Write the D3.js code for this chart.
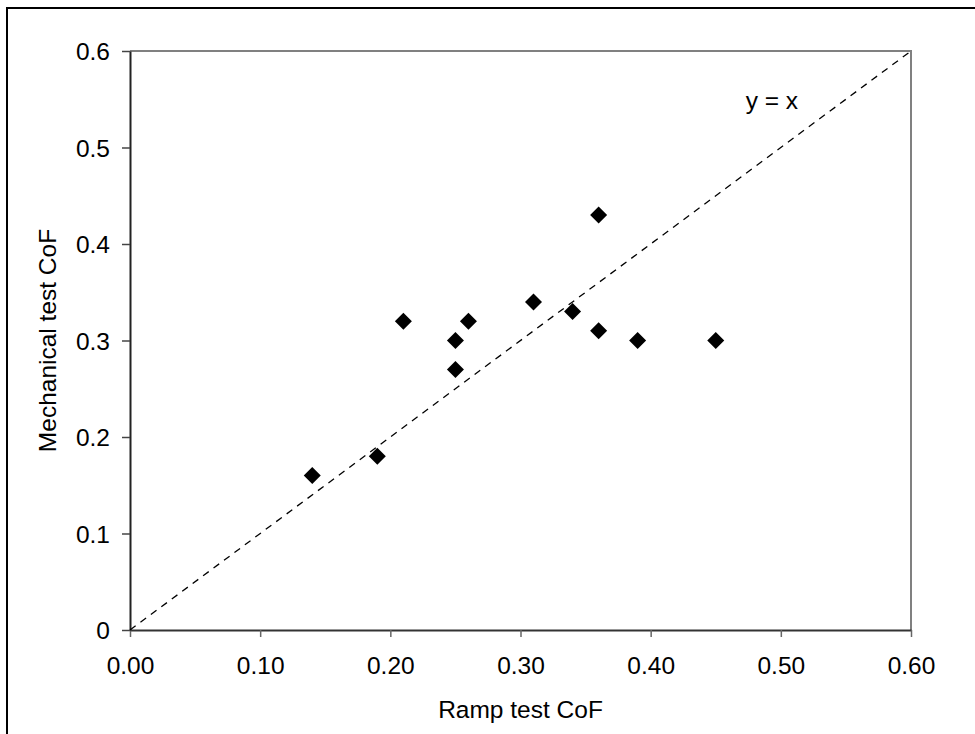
<!DOCTYPE html>
<html>
<head>
<meta charset="utf-8">
<script src="https://cdn.jsdelivr.net/npm/d3@7"></script>
<style>
  html, body { margin: 0; padding: 0; background: #fff; }
  svg { display: block; font-family: "Liberation Sans", Arial, sans-serif; }
</style>
</head>
<body>
<svg id="chart" width="975" height="734"></svg>
<script>
const rampCoF = [0.14, 0.19, 0.21, 0.25, 0.25, 0.26, 0.31, 0.34, 0.36, 0.36, 0.39, 0.45];
const mechCoF = [0.16, 0.18, 0.32, 0.30, 0.27, 0.32, 0.34, 0.33, 0.43, 0.31, 0.30, 0.30];
const xTicks = [0, 0.1, 0.2, 0.3, 0.4, 0.5, 0.6];
const yTicks = [0, 0.1, 0.2, 0.3, 0.4, 0.5, 0.6];
const xTitle = "Ramp test CoF";
const yTitle = "Mechanical test CoF";
const lineLabel = "y = x";

(function () {
const svg = d3.select("#chart");
const W = 975, H = 734;
const pLeft = 130, pRight = 911, pTop = 51, pBottom = 630;
const fs = 24.5;

// outer frame (left and top edges visible)
svg.append("path")
  .attr("d", `M7,${H + 2}V8H${W + 2}`)
  .attr("fill", "none").attr("stroke", "#000").attr("stroke-width", 2);

const x = d3.scaleLinear().domain([0, 0.6]).range([pLeft, pRight]);
const y = d3.scaleLinear().domain([0, 0.6]).range([pBottom, pTop]);

// top and right plot border (gray)
svg.append("path")
  .attr("d", `M${pLeft},${pTop}H${pRight}V${pBottom}`)
  .attr("fill", "none").attr("stroke", "#808080").attr("stroke-width", 2);

// x axis
const xAxis = svg.append("g").attr("transform", `translate(0,${pBottom})`)
  .call(d3.axisBottom(x).tickValues(xTicks).tickSize(7).tickSizeOuter(0).tickFormat(d3.format(".2f")));
xAxis.select(".domain").attr("stroke", "#333").attr("stroke-width", 2);
xAxis.selectAll(".tick line").attr("stroke", "#666").attr("stroke-width", 1.5);
xAxis.selectAll(".tick text")
  .attr("font-size", fs).attr("fill", "#000")
  .attr("font-family", "Liberation Sans, Arial, sans-serif")
  .attr("y", 44).attr("dy", 0);

// y axis
const yAxis = svg.append("g").attr("transform", `translate(${pLeft},0)`)
  .call(d3.axisLeft(y).tickValues(yTicks).tickSize(8).tickSizeOuter(0)
    .tickFormat(d => d === 0 ? "0" : d3.format(".1f")(d)));
yAxis.select(".domain").attr("stroke", "#222").attr("stroke-width", 2);
yAxis.selectAll(".tick line").attr("stroke", "#444").attr("stroke-width", 1.5);
yAxis.selectAll(".tick text")
  .attr("font-size", fs).attr("fill", "#000")
  .attr("font-family", "Liberation Sans, Arial, sans-serif")
  .attr("x", -20).attr("dy", "0.35em");

// y = x dashed line
svg.append("line")
  .attr("x1", x(0)).attr("y1", y(0))
  .attr("x2", x(0.6)).attr("y2", y(0.6))
  .attr("stroke", "#000").attr("stroke-width", 1.3)
  .attr("stroke-dasharray", "7,6");

svg.append("text")
  .attr("x", x(0.473)).attr("y", y(0.54))
  .attr("font-size", fs).attr("fill", "#000")
  .text(lineLabel);

// diamonds
const r = 8.5;
svg.append("g").selectAll("path")
  .data(rampCoF.map((v, i) => [v, mechCoF[i]]))
  .join("path")
  .attr("d", d => `M${x(d[0])},${y(d[1]) - r}L${x(d[0]) + r},${y(d[1])}L${x(d[0])},${y(d[1]) + r}L${x(d[0]) - r},${y(d[1])}Z`)
  .attr("fill", "#000");

// axis titles
svg.append("text")
  .attr("x", (pLeft + pRight) / 2).attr("y", 718)
  .attr("text-anchor", "middle").attr("font-size", fs).attr("fill", "#000")
  .text(xTitle);

svg.append("text")
  .attr("transform", `translate(56,${(pTop + pBottom) / 2}) rotate(-90)`)
  .attr("text-anchor", "middle").attr("font-size", fs).attr("fill", "#000")
  .text(yTitle);
})();
</script>
</body>
</html>
